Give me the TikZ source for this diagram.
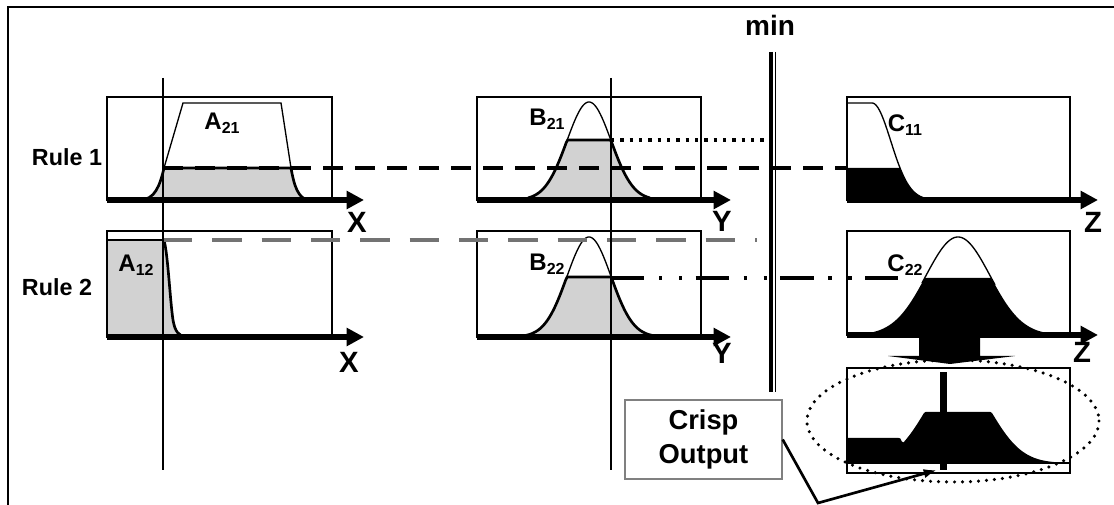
\documentclass[tikz,border=0pt]{standalone}
\usepackage{fontspec}
\setmainfont{Liberation Sans}
\usetikzlibrary{arrows.meta}
\newcommand{\msub}[2]{#1\raisebox{-0.35ex}{\fontsize{12}{12}\selectfont #2}}
\begin{document}
\begin{tikzpicture}[x=0.75pt,y=-0.75pt,
  boxline/.style={line width=2pt},
  axisline/.style={line width=4.2pt,-{Triangle[length=13pt,width=13pt]}},
  thinline/.style={line width=1pt},
  edgeline/.style={line width=2pt},
  shade/.style={fill=gray!35},
  lab/.style={font=\bfseries\fontsize{18}{18}\selectfont,inner sep=0pt},
  axlab/.style={font=\bfseries\fontsize{22}{22}\selectfont,inner sep=0pt},
  rulelab/.style={font=\bfseries\fontsize{17.5}{17.5}\selectfont,inner sep=0pt},
  cut1/.style={line width=3.5pt,dash pattern=on 15pt off 9pt},
  cut2/.style={line width=3pt,black!55,dash pattern=on 22pt off 15pt},
  dotline/.style={line width=3pt,dash pattern=on 2.5pt off 4.5pt},
  dashdot/.style={line width=3pt,dash pattern=on 25pt off 11pt on 2.5pt off 12.5pt on 2.5pt off 10pt},
  ellipsedots/.style={line width=2.6pt,line cap=round,dash pattern=on 0pt off 6pt}]
\useasboundingbox (0,0) rectangle (1114,505);
% outer frame (cropped)
\draw[line width=2pt] (8,505) -- (8,7) -- (1114,7);

% ---------- Rule 1, A21 ----------
\fill[shade] (140,200) .. controls (155,200) and (160,185) .. (164,168) -- (291,168) .. controls (294,185) and (298,200) .. (310,200) -- cycle;
\draw[edgeline] (140,200) .. controls (155,200) and (160,185) .. (164,168) -- (291,168) .. controls (294,185) and (298,200) .. (310,200);
\draw[thinline] (164,168) -- (183,103) -- (281,103) -- (291,168);
\draw[boxline] (107,97) rectangle (332,200);
\draw[axisline] (107,200) -- (364,200);

% ---------- Rule 2, A12 ----------
\fill[shade] (107,240) -- (164,240) .. controls (168,255) and (170,300) .. (173,320) .. controls (175,332) and (179,336) .. (186,337) -- (107,337) -- cycle;
\draw[edgeline] (164,240) .. controls (168,255) and (170,300) .. (173,320) .. controls (175,332) and (179,336) .. (186,337);
\draw[thinline] (107,240) -- (164,240);
\draw[boxline] (107,231) rectangle (332,337);
\draw[axisline] (107,337) -- (364,337);

% ---------- Rule 1, B21 ----------
\fill[shade] plot[domain=528:650,samples=90] (\x,{200-min(98*exp(-((\x-589)/31.1)^2),60)}) -- cycle;
\draw[edgeline] plot[domain=528:650,samples=90] (\x,{200-min(98*exp(-((\x-589)/31.1)^2),60)});
\draw[thinline] plot[domain=566:612,samples=40] (\x,{200-98*exp(-((\x-589)/31.1)^2)});
\draw[boxline] (477,97) rectangle (701,200);
\draw[axisline] (477,200) -- (731,200);

% ---------- Rule 2, B22 ----------
\fill[shade] plot[domain=522:656,samples=90] (\x,{337-min(100*exp(-((\x-589)/31.1)^2),60)}) -- cycle;
\draw[edgeline] plot[domain=522:656,samples=90] (\x,{337-min(100*exp(-((\x-589)/31.1)^2),60)});
\draw[thinline] plot[domain=566:612,samples=40] (\x,{337-100*exp(-((\x-589)/31.1)^2)});
\draw[boxline] (477,231) rectangle (701,337);
\draw[axisline] (477,337) -- (731,337);

% ---------- Rule 1, C11 ----------
\fill plot[domain=848:960,samples=90] (\x,{200-min(97*exp(-((max(\x-872,0))/26.6)^2),32)}) -- (848,200) -- cycle;
\draw[thinline] plot[domain=848:960,samples=90] (\x,{200-97*exp(-((max(\x-872,0))/26.6)^2)});
\draw[boxline] (847,97) rectangle (1070,200);
\draw[axisline] (847,200) -- (1098,200);

% ---------- Rule 2, C22 ----------
\fill plot[domain=849:1068,samples=120] (\x,{335-min(98*exp(-((\x-958)/45.25)^2),57)}) -- cycle;
\draw[thinline] plot[domain=922:995,samples=50] (\x,{335-98*exp(-((\x-958)/45.25)^2)});
\draw[boxline] (847,231) rectangle (1070,335);
\draw[axisline] (847,335) -- (1098,335);

% big down arrow
\fill (919,335) -- (980,335) -- (980,356) -- (1015,356) -- (950,364) -- (888,356) -- (919,356) -- cycle;

% ---------- aggregated result ----------
\fill (848,463) -- plot[domain=848:1068,samples=140] (\x,{463-max(25*min(1,exp(-((max(\x-872,0))/26.6)^2)/0.33),min(88*exp(-((\x-958)/45.25)^2),51))}) -- (1068,463) -- cycle;
\draw[boxline] (847,368) rectangle (1070,473);
\draw[edgeline] (847,463) -- (1070,463);
\fill (940,372) rectangle (947,470);
\draw[ellipsedots] (953,421) ellipse [x radius=146,y radius=61];

% ---------- cut / guide lines ----------
\coordinate (a21cut) at (163,168);
\coordinate (c11cut) at (848,168);
\coordinate (b21cut) at (611,140);
\coordinate (b21end) at (770,140);
\coordinate (a12cut) at (163,240);
\coordinate (a12end) at (757,240);
\coordinate (b22cut) at (611,278);
\coordinate (c22cut) at (907,278);
\draw[cut1] (a21cut) -- (c11cut);
\draw[dotline] (b21cut) -- (b21end);
\draw[cut2] (a12cut) -- (a12end);
\draw[dashdot] (b22cut) -- (c22cut);

% input lines
\draw[thinline] (163,78) -- (163,470);
\draw[thinline] (611,78) -- (611,470);

% min line
\draw[line width=2.4pt] (771,52) -- (771,392);
\draw[line width=1.4pt] (775.5,52) -- (775.5,392);
\node[font=\bfseries\fontsize{21}{21}\selectfont,inner sep=0pt,anchor=base] (minlab) at (770,36) {min};

% labels
\node[rulelab] (r1) at (67,157) {Rule 1};
\node[rulelab] (r2) at (57,287) {Rule 2};
\node[lab] (la21) at (222,123) {\msub{A}{21}};
\node[lab] (la12) at (136,265) {\msub{A}{12}};
\node[lab] (lb21) at (547,119) {\msub{B}{21}};
\node[lab] (lb22) at (547,264) {\msub{B}{22}};
\node[lab] (lc11) at (905,125) {\msub{C}{11}};
\node[lab] (lc22) at (905,265) {\msub{C}{22}};
\node[axlab] (x1) at (357,222) {X};
\node[axlab] (y1) at (722,221) {Y};
\node[axlab] (z1) at (1093,222) {Z};
\node[axlab] (x2) at (349,362) {X};
\node[axlab] (y2) at (722,353) {Y};
\node[axlab] (z2) at (1082,352) {Z};

% crisp output
\node[draw=gray,line width=1pt,minimum width=117.75pt,minimum height=59.25pt,inner sep=0pt,align=center,font=\bfseries\fontsize{20.5}{25}\selectfont] (crisp) at (703.5,439.5) {Crisp\\Output};
\coordinate (elbow) at (818,503);
\coordinate (bartip) at (937,470);
\draw[line width=2pt,-{Latex[length=10pt,width=7pt]}] (crisp.east) -- (elbow) -- (bartip);
\end{tikzpicture}
\end{document}
